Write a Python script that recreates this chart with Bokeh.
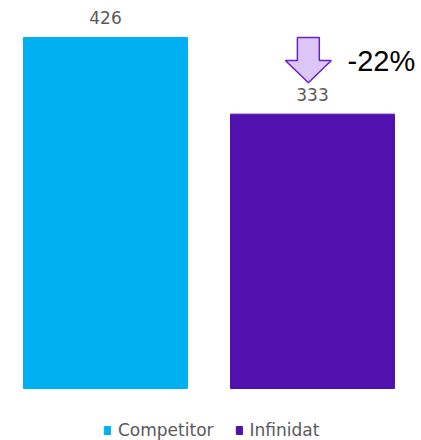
from bokeh.plotting import figure
from bokeh.models import Range1d, ColumnDataSource, LabelSet, Legend, LegendItem, Label
from bokeh.embed import file_html
from bokeh.resources import INLINE
from bokeh.core.properties import value

categories = ["Competitor", "Infinidat"]
values = [426, 333]
colors = ["#00B0F0", "#5011AE"]
labels = ["426", "333"]

xs = list(range(len(categories)))
src = ColumnDataSource(dict(x=xs, top=values, color=colors, label=labels, name=categories))

p = figure(width=421, height=440, output_backend="svg", toolbar_location=None,
           x_range=Range1d(-0.5072, 1.5266), y_range=Range1d(-63.1, 470.9),
           min_border=0, min_border_left=0, min_border_right=0, min_border_top=0, min_border_bottom=0)
p.axis.visible = False
p.grid.visible = False
p.outline_line_color = None
p.background_fill_color = "white"

r = p.vbar(x="x", top="top", width=0.792, bottom=0, color="color", source=src)

p.add_layout(LabelSet(x="x", y="top", text="label", source=src, y_offset=13,
                      text_align="center", text_baseline="bottom",
                      text_font=value("DejaVu Sans"), text_font_size="17px",
                      text_color="#595959"))

# arrow from competitor level down toward Infinidat label
cx = xs[1] - 0.02
top_y = values[0]
tip_y = values[1] + 38
neck_y = values[1] + 65
hw, sw = 0.111, 0.053
p.patch([cx - sw, cx + sw, cx + sw, cx + hw, cx, cx - hw, cx - sw],
        [top_y, top_y, neck_y, neck_y, tip_y, neck_y, neck_y],
        fill_color="#DCC6F7", line_color="#6A20C8", line_width=1.5)

pct = round((values[1] - values[0]) / values[0] * 100)
p.add_layout(Label(x=xs[1] + 0.169, y=neck_y, text=f"{pct}%", text_align="left",
                   text_baseline="middle", text_font="Liberation Sans",
                   text_font_size="29px", text_color="#000000"))

items = []
for i, c in enumerate(categories):
    items.append(LegendItem(label=c, renderers=[r], index=i))
leg = Legend(items=items, orientation="horizontal", location=(103, 0),
             glyph_width=8, glyph_height=10, label_height=14, label_standoff=7,
             spacing=21, padding=0, margin=0, border_line_alpha=0,
             background_fill_alpha=0, label_text_font="DejaVu Sans",
             label_text_font_size="17px", label_text_color="#595959")
p.add_layout(leg)

open("out.html", "w").write(file_html(p, INLINE))
